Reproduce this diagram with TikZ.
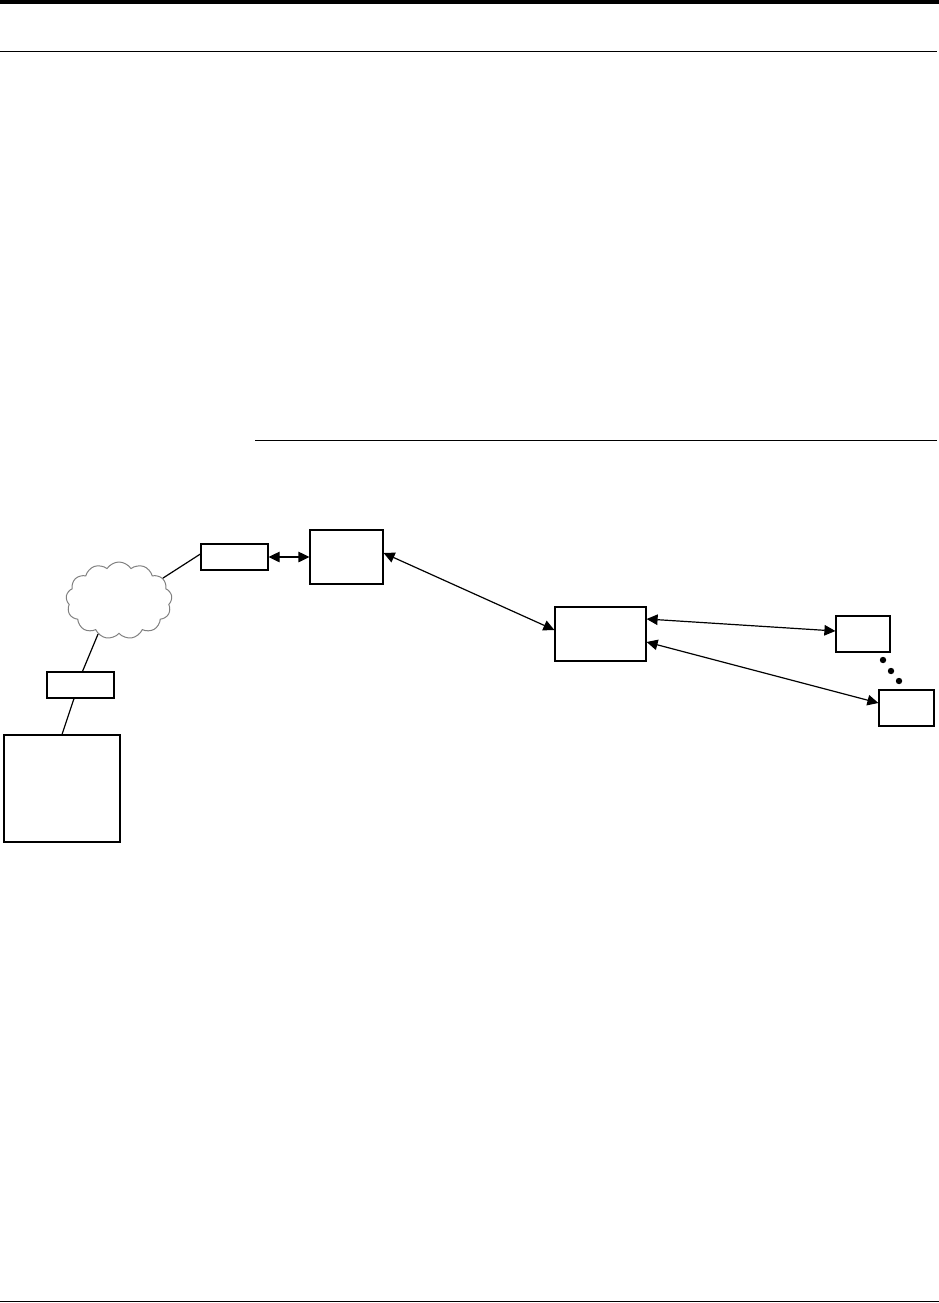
\documentclass[tikz,border=0pt]{standalone}
\usetikzlibrary{arrows.meta,shapes.symbols}
\begin{document}
\begin{tikzpicture}[
    x=1pt, y=-1pt,
    box/.style={rectangle, draw=black, line width=1.2pt, fill=white, inner sep=0pt},
    net/.style={cloud, draw=gray, line width=1pt, cloud puffs=13, cloud puff arc=115,
        aspect=1.4, minimum width=106pt, minimum height=77pt, inner sep=0pt},
    link/.style={line width=1.2pt, -},
    duplex/.style={line width=1.2pt, {Triangle[length=11pt,width=10.5pt]}-{Triangle[length=11pt,width=10.5pt]}},
    rule/.style={line width=1.6pt}
]
    \useasboundingbox (0,0) rectangle (939,1303);
    % page rules
    \fill (0,0) rectangle (939,4.5);
    \draw[rule] (0,51.5) -- (937,51.5);
    \draw[rule] (255,440.5) -- (937,440.5);
    \draw[rule] (0,1301.5) -- (939,1301.5);
    % nodes
    \node[net] (cloudnet) at (119,600.5) {};
    \node[box, minimum width=67pt, minimum height=26pt] (modem) at (234.5,557) {};
    \node[box, minimum width=73pt, minimum height=54pt] (hub) at (346.5,557) {};
    \node[box, minimum width=67pt, minimum height=26pt] (pad) at (80.5,685) {};
    \node[box, minimum width=116pt, minimum height=107pt] (host) at (62,788.5) {};
    \node[box, minimum width=91pt, minimum height=54pt] (ctrl) at (600.5,634) {};
    \node[box, minimum width=54pt, minimum height=36pt] (termA) at (863,634) {};
    \node[box, minimum width=55pt, minimum height=36pt] (termB) at (906.5,708) {};
    % connectors
    \draw[link] (cloudnet.27) -- ([yshift=3pt]modem.west);
    \draw[link] (cloudnet.-122) -- ([xshift=2pt]pad.north);
    \draw[link] ([xshift=-6.5pt]pad.south) -- (host.north);
    \draw[duplex] (modem.east) -- (hub.west);
    \draw[duplex] ([yshift=4pt]hub.east) -- ([yshift=4pt]ctrl.west);
    \draw[duplex] ([yshift=15pt]ctrl.east) -- ([yshift=3pt]termA.west);
    \draw[duplex] ([yshift=-8pt]ctrl.east) -- ([yshift=5pt]termB.west);
    % dots between the terminals
    \foreach \px/\py in {883/660, 891/671, 899/681}
        \fill (\px,\py) circle (3.2pt);
\end{tikzpicture}
\end{document}
